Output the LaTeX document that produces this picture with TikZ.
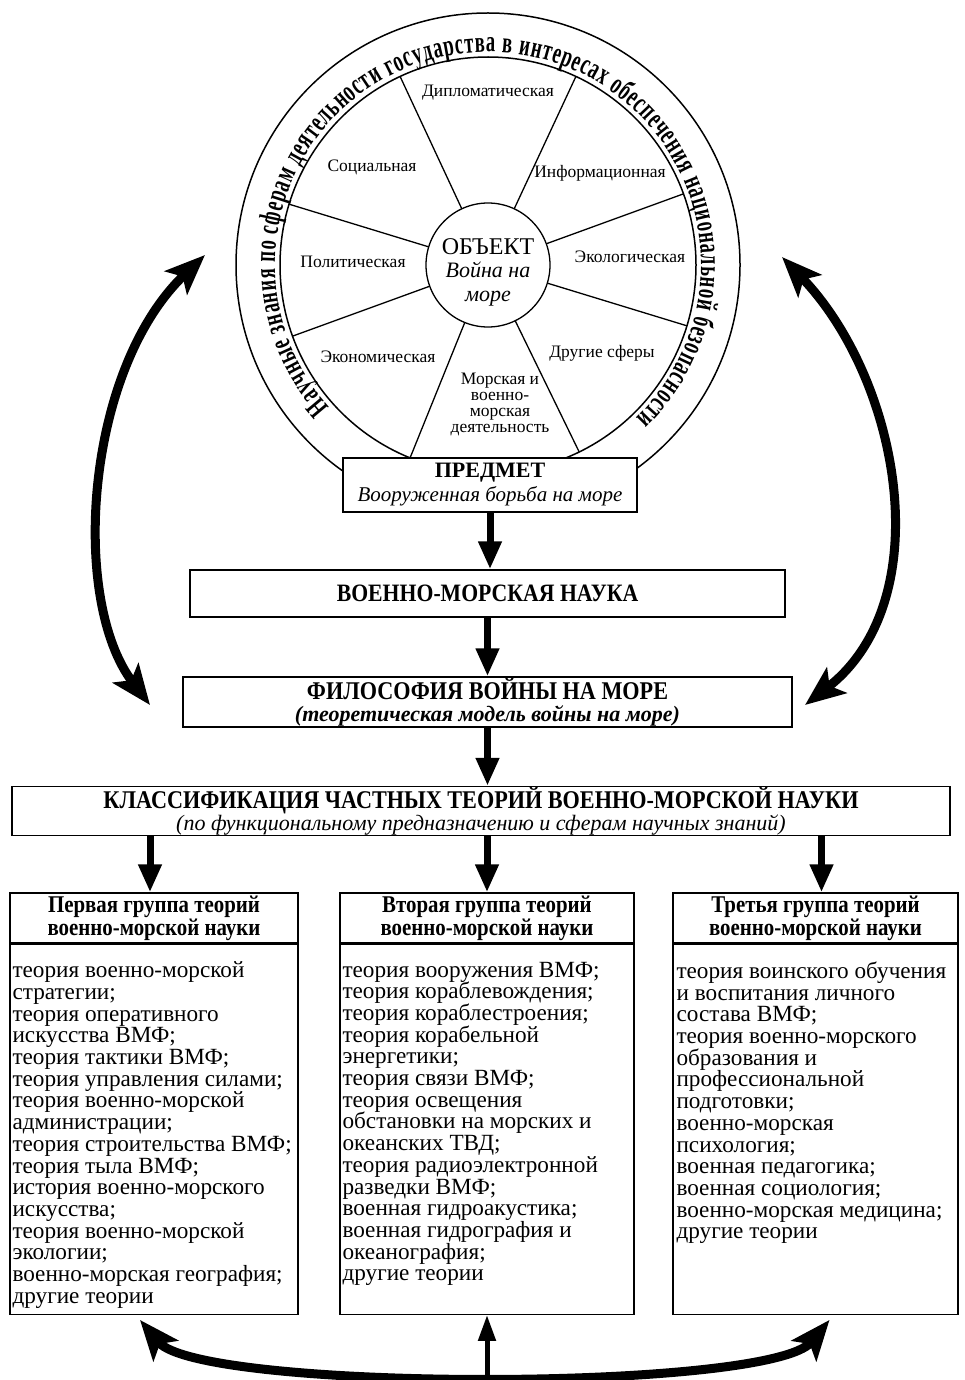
\documentclass[tikz,border=0pt]{standalone}
\usepackage{fontspec}
\setmainfont{Liberation Serif}
\newfontfamily\ringfont[FakeStretch=0.62]{Liberation Serif}
\newfontfamily\condfont[FakeStretch=0.87]{Liberation Serif}
\usetikzlibrary{arrows.meta,decorations.text,calc}

\begin{document}
\begin{tikzpicture}[x=1pt,y=1pt,
  frame/.style={draw, line width=1.3pt, fill=white, inner sep=0pt, align=center},
  fat/.style={line width=7pt, -{Triangle[length=28pt,width=22pt]}},
  slim/.style={line width=5pt, -{Triangle[length=26pt,width=17pt]}},
  swing/.style={line width=9pt, {Stealth[length=40pt,width=32pt,inset=9pt]}-{Stealth[length=40pt,width=32pt,inset=9pt]}},
  sector/.style={font=\fontsize{17.5}{16}\selectfont, align=center, inner sep=0pt},
  listtext/.style={font=\fontsize{23.2}{21.7}\selectfont, align=left, inner sep=0pt, anchor=north west},
  grouphead/.style={frame, minimum height=50pt, font=\condfont\bfseries\fontsize{24}{23}\selectfont},
  groupbody/.style={draw, line width=1.3pt, minimum height=370pt, anchor=north, inner sep=0pt},
]
\useasboundingbox[fill=white] (0,0) rectangle (964,-1380);

% --- the wheel of state activity spheres ---
\coordinate (ctr) at (488,-265);
\begin{scope}
  \clip (0,0) rectangle (964,-505);
  \draw[line width=1.5pt] (ctr) circle[radius=252];
  \draw[line width=1.5pt] (ctr) circle[radius=208];
\end{scope}
\foreach \a in {115,65,20,-17,-64,-112,-160,163}
  \draw[line width=1.3pt] ($(ctr)+(\a:62)$) -- ($(ctr)+(\a:208)$);
\node[circle, draw, line width=1.3pt, minimum size=124pt, inner sep=0pt, fill=white] (obj) at (ctr) {};
\node[align=center, inner sep=0pt, font=\fontsize{22}{23.5}\selectfont] (objtext) at (488,-272)
  {{\fontsize{24}{23.5}\selectfont ОБЪЕКТ}\\\itshape Война на\\\itshape море};

\path[decorate, decoration={text along path, text format delimiters={|}{|},
  text={|\ringfont\bfseries\fontsize{30}{30}\selectfont|Научные знания по сферам деятельности государства в интересах обеспечения национальной безопасности},
  text align=fit to path}]
  ($(ctr)+(222:213)$) arc[start angle=222, end angle=-46, radius=213];

\node[sector] (s1) at (488,-93)  {Дипломатическая};
\node[sector] (s2) at (372,-167) {Социальная};
\node[sector] (s3) at (600,-173) {Информационная};
\node[sector] (s4) at (353,-262) {Политическая};
\node[sector] (s5) at (630,-257) {Экологическая};
\node[sector] (s6) at (378,-357) {Экономическая};
\node[sector] (s7) at (602,-353) {Другие сферы};
\node[sector] (s8) at (500,-404) {Морская и\\военно-\\морская\\деятельность};

% --- main chain ---
\node[frame, minimum width=294pt, minimum height=54pt, font=\fontsize{21}{24}\selectfont] (pred) at (490,-485)
  {{\bfseries\fontsize{22}{24}\selectfont ПРЕДМЕТ}\\\itshape Вооруженная борьба на море};
\node[frame, minimum width=595pt, minimum height=47pt, font=\condfont\bfseries\fontsize{25}{24}\selectfont] (nauka) at (487.5,-593.5)
  {ВОЕННО-МОРСКАЯ НАУКА};
\node[frame, minimum width=609pt, minimum height=50pt, font=\bfseries\fontsize{22}{22.5}\selectfont] (phil) at (487.5,-702)
  {{\condfont\fontsize{25.5}{22.5}\selectfont ФИЛОСОФИЯ ВОЙНЫ НА МОРЕ}\\\itshape (теоретическая модель войны на море)};
\node[frame, minimum width=938pt, minimum height=48pt, font=\fontsize{22}{22.5}\selectfont] (klass) at (481,-811)
  {{\condfont\bfseries\fontsize{25.5}{22.5}\selectfont КЛАССИФИКАЦИЯ ЧАСТНЫХ ТЕОРИЙ ВОЕННО-МОРСКОЙ НАУКИ}\\\itshape (по функциональному предназначению и сферам научных знаний)};

\draw[fat] (pred.south) -- (pred.south |- nauka.north);
\draw[fat] (nauka.south) -- (nauka.south |- phil.north);
\draw[fat] (phil.south) -- (phil.south |- klass.north);

% --- three groups of theories ---
\node[grouphead, minimum width=288pt] (h1) at (154,-918) {Первая группа теорий\\военно-морской науки};
\node[grouphead, minimum width=294pt] (h2) at (487,-918) {Вторая группа теорий\\военно-морской науки};
\node[grouphead, minimum width=285pt] (h3) at (815.5,-918) {Третья группа теорий\\военно-морской науки};
\node[groupbody, minimum width=288pt] (b1) at (h1.south) {};
\node[groupbody, minimum width=294pt] (b2) at (h2.south) {};
\node[groupbody, minimum width=285pt] (b3) at (h3.south) {};

\draw[fat] ([xshift=-4pt]h1.north |- klass.south) -- ([xshift=-4pt]h1.north);
\draw[fat] (h2.north |- klass.south) -- (h2.north);
\draw[fat] ([xshift=6pt]h3.north |- klass.south) -- ([xshift=6pt]h3.north);

\node[listtext] (t1) at ([xshift=3pt,yshift=-18pt]b1.north west)
  {теория военно-морской\\стратегии;\\теория оперативного\\искусства ВМФ;\\теория тактики ВМФ;\\теория управления силами;\\теория военно-морской\\администрации;\\теория строительства ВМФ;\\теория тыла ВМФ;\\история военно-морского\\искусства;\\теория военно-морской\\экологии;\\военно-морская география;\\другие теории};
\node[listtext] (t2) at ([xshift=3pt,yshift=-18pt]b2.north west)
  {теория вооружения ВМФ;\\теория кораблевождения;\\теория кораблестроения;\\теория корабельной\\энергетики;\\теория связи ВМФ;\\теория освещения\\обстановки на морских и\\океанских ТВД;\\теория радиоэлектронной\\разведки ВМФ;\\военная гидроакустика;\\военная гидрография и\\океанография;\\другие теории};
\node[listtext] (t3) at ([xshift=4pt,yshift=-18pt]b3.north west)
  {теория воинского обучения\\и воспитания личного\\состава ВМФ;\\теория военно-морского\\образования и\\профессиональной\\подготовки;\\военно-морская\\психология;\\военная педагогика;\\военная социология;\\военно-морская медицина;\\другие теории};

% --- feedback arrows ---
\coordinate (lt) at (205,-255);
\coordinate (lb) at (150,-705);
\coordinate (rt) at (782,-257);
\coordinate (rb) at (805,-705);
\draw[swing] (lt) .. controls (85,-370) and (70,-600) .. (lb);
\draw[swing] (rt) .. controls (900,-380) and (940,-600) .. (rb);

\coordinate (gl) at ([xshift=-14pt,yshift=-5pt]b1.south);
\coordinate (gr) at ([xshift=14pt,yshift=-5pt]b3.south);
\coordinate (foot) at (487,-1384);
\draw[swing] (gl) .. controls (200,-1392) and (770,-1392) .. (gr);
\draw[slim] (foot) -- (b2.south);
\end{tikzpicture}
\end{document}
